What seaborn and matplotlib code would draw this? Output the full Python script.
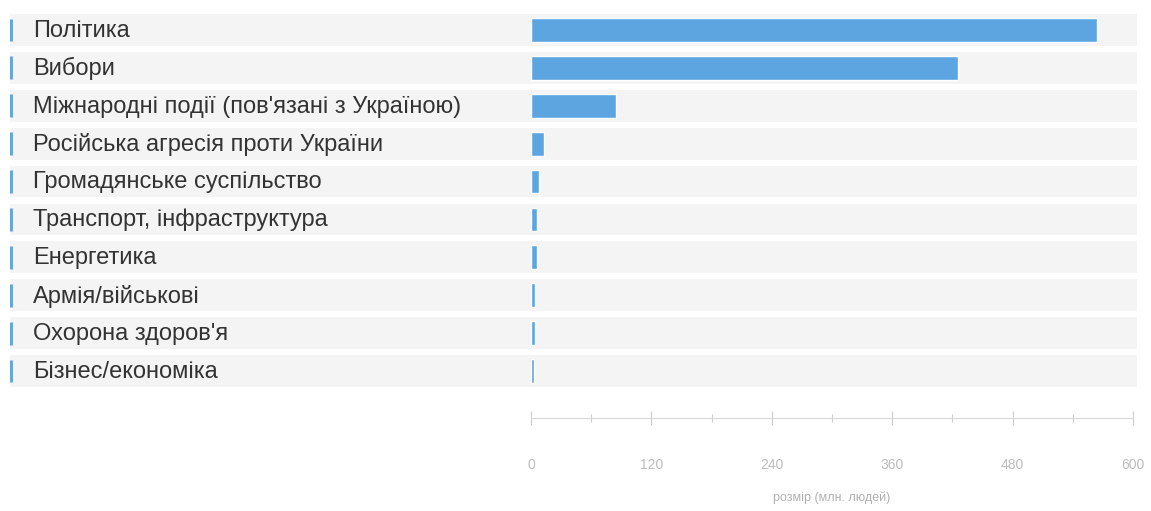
import matplotlib
matplotlib.use("Agg")
import matplotlib.pyplot as plt
from matplotlib.patches import Rectangle
from matplotlib.ticker import MultipleLocator
import seaborn as sns
import pandas as pd

# дані
categories = [
    "Політика",
    "Вибори",
    "Міжнародні події (пов'язані з Україною)",
    "Російська агресія проти України",
    "Громадянське суспільство",
    "Транспорт, інфраструктура",
    "Енергетика",
    "Армія/військові",
    "Охорона здоров'я",
    "Бізнес/економіка",
]
values = [564, 426, 85, 13, 8, 6, 5.5, 4, 4, 3]
x_ticks = [0, 120, 240, 360, 480, 600]
x_label = "розмір (млн. людей)"

df = pd.DataFrame({"category": categories, "value": values})

sns.set_theme(style="white")
plt.rcParams["font.family"] = ["Liberation Sans", "DejaVu Sans"]

W, H = 1151, 511
fig = plt.figure(figsize=(W / 100, H / 100), dpi=100)
ax_left, ax_right = 531, 1133
ax_top, ax_bottom = 11, 390
ax = fig.add_axes([ax_left / W, 1 - ax_bottom / H, (ax_right - ax_left) / W, (ax_bottom - ax_top) / H])
ax.set_facecolor("none")

sns.barplot(data=df, x="value", y="category", orient="h", color="#5da5e0",
            saturation=1, width=0.63, ax=ax, zorder=2)

def fx(px):
    # піксель фігури -> частка осі по x
    return (px - ax_left) / (ax_right - ax_left)

ytr = ax.get_yaxis_transform()
for i, cat in enumerate(categories):
    ax.add_patch(Rectangle((fx(10), i - 0.42), fx(1137) - fx(10), 0.84, transform=ytr,
                           clip_on=False, facecolor="#f4f4f4", edgecolor="none", zorder=0))
    ax.plot([fx(11), fx(11)], [i - 0.3, i + 0.3], transform=ytr, clip_on=False,
            color="#6aa6d8", lw=2.2, solid_capstyle="butt", zorder=1)
    ax.text(fx(33), i + 0.02, cat, transform=ytr, ha="left", va="center", fontsize=17,
            color="#333333", zorder=3)

ax.set_xlim(0, 600)
ax.set_ylim(len(categories) - 0.5, -0.5)
ax.set_yticks([])
ax.set_ylabel("")
ax.set_xticks(x_ticks)
ax.set_xticklabels([str(t) for t in x_ticks])
ax.xaxis.set_minor_locator(MultipleLocator(60))

for s in ["left", "top", "right"]:
    ax.spines[s].set_visible(False)
ax.spines["bottom"].set_position(("outward", 20))
ax.spines["bottom"].set_color("#d8d8d8")
ax.spines["bottom"].set_linewidth(0.8)

ax.tick_params(axis="x", which="both", bottom=True, direction="inout", color="#cccccc",
               width=0.8, labelsize=10, labelcolor="#bdbdbd")
ax.tick_params(axis="x", which="major", length=10, pad=24)
ax.tick_params(axis="x", which="minor", length=6)
ax.set_xlabel(x_label, fontsize=9, color="#b0b0b0", labelpad=14)

fig.savefig("out.png", dpi=100)
